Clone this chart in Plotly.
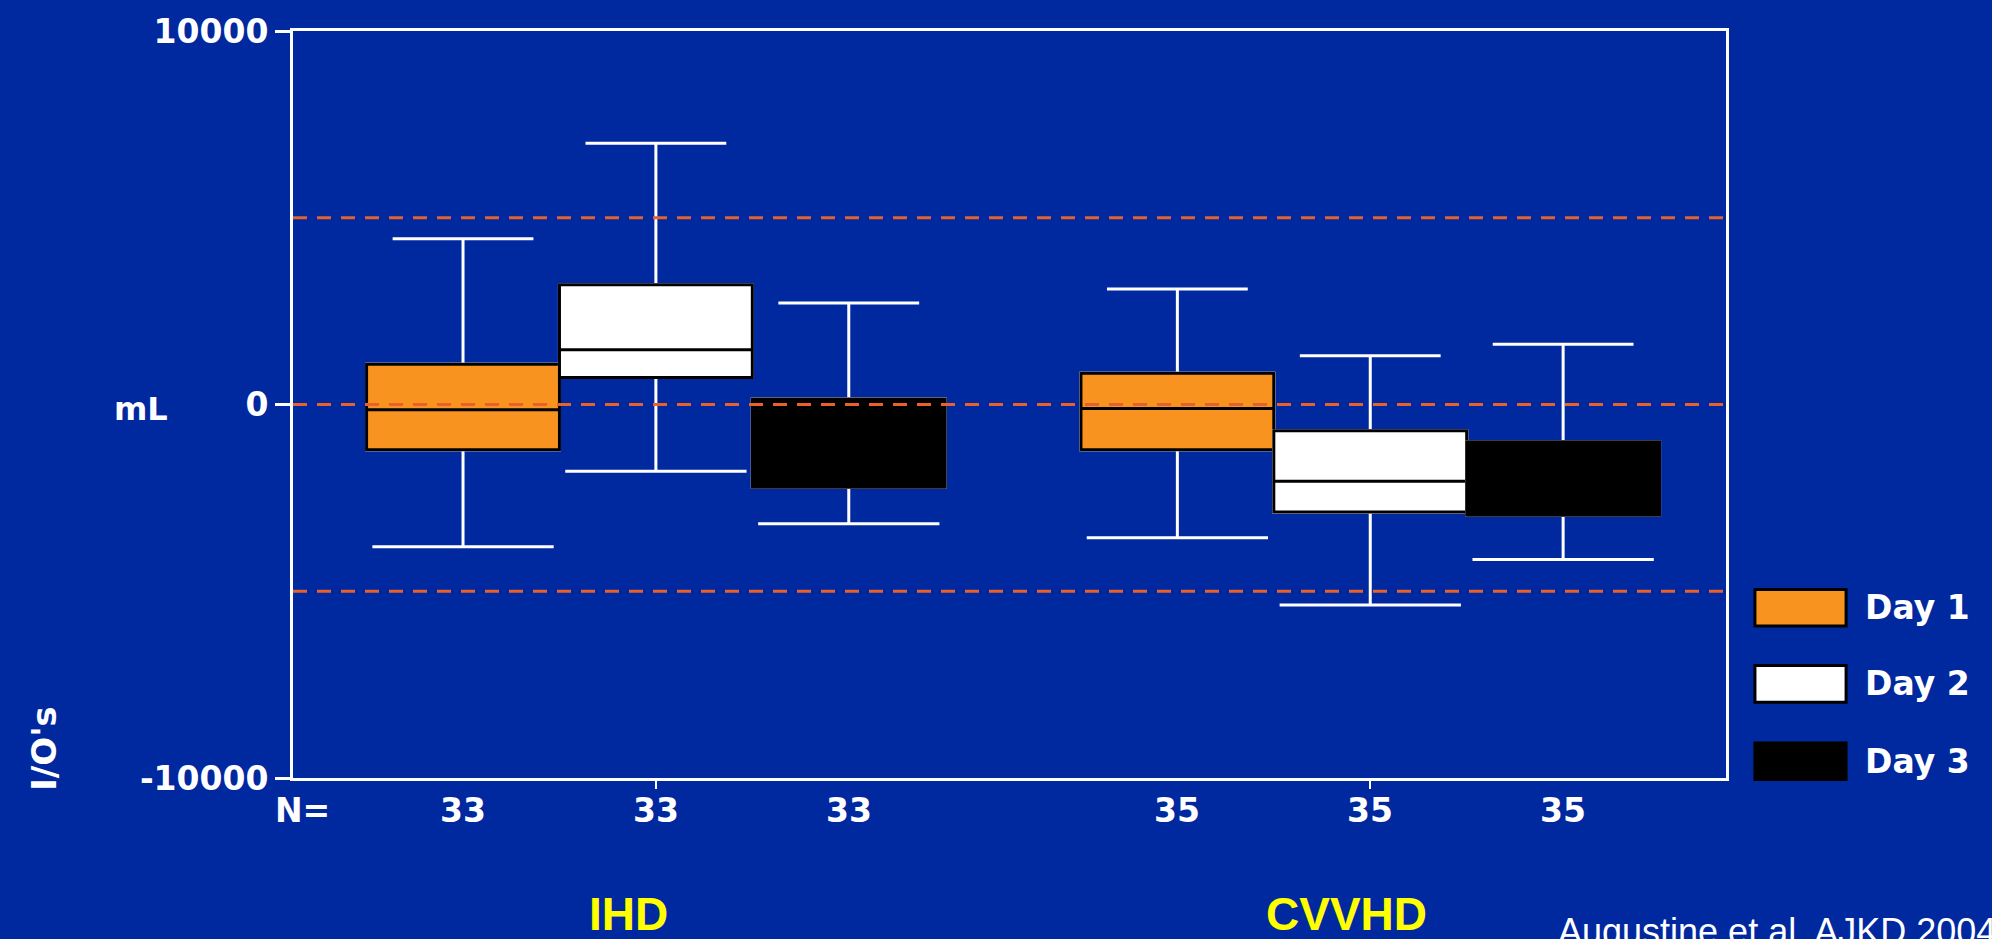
import plotly.graph_objects as go

# Fluid balance (inputs minus outputs, mL) by dialysis modality and day
groups = ["IHD", "CVVHD"]
days = ["Day 1", "Day 2", "Day 3"]
day_colors = ["#F7931E", "#FFFFFF", "#000000"]

# one row per day, one value per group (IHD, CVVHD)
lower_whisker = [[-3810, -3570], [-1790, -5370], [-3190, -4150]]
q1_values = [[-1210, -1210], [720, -2880], [-2215, -2965]]
medians = [[-140, -110], [1465, -2055], [-1000, -2000]]
q3_values = [[1080, 835], [3205, -705], [145, -995]]
upper_whisker = [[4435, 3090], [6995, 1305], [2720, 1615]]

n_per_group = [33, 35]
reference_lines = [5000, 0, -5000]
y_ticks = [10000, 0, -10000]
y_tick_text = ["10000", "0", "-10000"]

BG = "#00289F"
BOLD = dict(family="DejaVu Sans", color="white", weight="bold")


def label(fig, text, x, y, size, xref="paper", angle=0, **font):
    fig.add_annotation(x=x, xref=xref, y=y, yref="paper", xanchor="center",
                       yanchor="middle", text=text, textangle=angle,
                       showarrow=False, font=dict(size=size, **(font or BOLD)))


fig = go.Figure()

for i, day in enumerate(days):
    common = dict(x=groups, offsetgroup=day, alignmentgroup="boxes",
                  boxpoints=False, hoverinfo="skip")
    # upper whisker (short cap)
    fig.add_trace(go.Box(q1=q1_values[i], median=medians[i], q3=q3_values[i],
                         lowerfence=q1_values[i], upperfence=upper_whisker[i],
                         whiskerwidth=0.73, line=dict(color="white", width=3),
                         fillcolor="rgba(0,0,0,0)", showlegend=False, **common))
    # lower whisker (wide cap)
    fig.add_trace(go.Box(q1=q1_values[i], median=medians[i], q3=q3_values[i],
                         lowerfence=lower_whisker[i], upperfence=q3_values[i],
                         whiskerwidth=0.94, line=dict(color="white", width=3),
                         fillcolor="rgba(0,0,0,0)", showlegend=False, **common))
    # interquartile box with median
    fig.add_trace(go.Box(q1=q1_values[i], median=medians[i], q3=q3_values[i],
                         lowerfence=q1_values[i], upperfence=q3_values[i],
                         whiskerwidth=0, line=dict(color="black", width=3),
                         fillcolor=day_colors[i], name=day, showlegend=False,
                         **common))

# dashed reference levels
for val in reference_lines:
    fig.add_shape(type="line", xref="paper", x0=0, x1=1, yref="y", y0=val, y1=val,
                  line=dict(color="#E8602C", width=3, dash="14px,10px"), layer="above")

# sample sizes under each box
boxgap = 0.19
box_w = (1 - boxgap) / len(days)
for g, n in enumerate(n_per_group):
    for i in range(len(days)):
        label(fig, str(n), g + (i - 1) * box_w, -0.043, 33, xref="x")
label(fig, "N=", 0.0063, -0.043, 33)

# axis titles
label(fig, "mL", -0.106, 0.494, 32)
label(fig, "I/O's", -0.174, 0.04, 34, angle=-90)

# modality labels
for name, xp in zip(groups, [0.2338, 0.7349]):
    label(fig, name, xp, -0.182, 46, family="Liberation Sans", color="#FFFF00",
          weight="bold")

fig.add_annotation(x=0.8814, xref="paper", xanchor="left", y=-0.175, yref="paper",
                   yanchor="top", text="Augustine et al. AJKD 2004", showarrow=False,
                   font=dict(family="Liberation Sans", size=36, color="white"))

# legend swatches
legend_y = [0.228, 0.126, 0.0225]
for day, color, yc in zip(days, day_colors, legend_y):
    fig.add_shape(type="rect", xref="paper", yref="paper", x0=1.0202, x1=1.0838,
                  y0=yc - 0.0245, y1=yc + 0.0245, fillcolor=color,
                  line=dict(color="black", width=3))
    fig.add_annotation(x=1.0956, xref="paper", xanchor="left", y=yc, yref="paper",
                       yanchor="middle", text=day, showarrow=False,
                       font=dict(size=33, **BOLD))

fig.update_layout(
    width=1992, height=939,
    margin=dict(l=293, r=266, t=24, b=161),
    paper_bgcolor=BG, plot_bgcolor=BG,
    boxmode="group", boxgap=boxgap, boxgroupgap=0,
    showlegend=False,
    xaxis=dict(type="category", categoryarray=groups, range=[-0.508, 1.498],
               showgrid=False, zeroline=False, showticklabels=False,
               showline=True, linecolor="white", linewidth=3, mirror=True,
               ticks="outside", ticklen=8, tickwidth=2, tickcolor="white"),
    yaxis=dict(range=[-10000, 10000], tickvals=y_ticks, ticktext=y_tick_text,
               showgrid=False, zeroline=False,
               showline=True, linecolor="white", linewidth=3, mirror=True,
               ticks="outside", ticklen=15, tickwidth=3, tickcolor="white",
               ticklabelstandoff=0, tickfont=dict(size=33, **BOLD)),
)

fig.write_html("out.html")
